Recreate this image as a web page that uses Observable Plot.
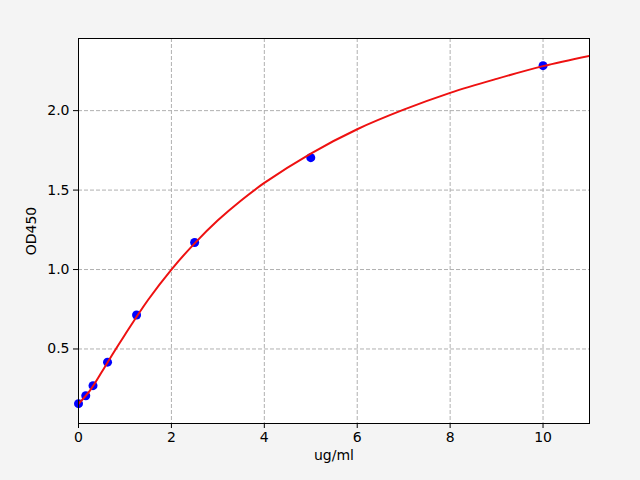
<!DOCTYPE html>
<html>
<head>
<meta charset="utf-8">
<script src="https://cdn.jsdelivr.net/npm/d3@7"></script>
<script src="https://cdn.jsdelivr.net/npm/@observablehq/plot@0.6"></script>
<style>
  html, body { margin: 0; padding: 0; background: #f4f4f4; }
  #chart svg { display: block; }
</style>
</head>
<body>
<div id="chart"></div>
<script>
// Standard points (concentration ug/ml, OD450)
const conc = [0, 0.156, 0.3125, 0.625, 1.25, 2.5, 5, 10];
const od   = [0.156, 0.206, 0.269, 0.417, 0.714, 1.170, 1.704, 2.283];

// Fitted curve
const curveX = [0, 0.25, 0.5, 0.75, 1, 1.5, 2, 2.5, 3, 3.5, 4, 5, 6, 7, 8, 9, 10, 11];
const curveY = [0.155, 0.24, 0.355, 0.475, 0.59, 0.81, 1.0, 1.165, 1.31, 1.435, 1.545, 1.73, 1.883, 2.006, 2.112, 2.2, 2.28, 2.345];

const xTicks = [0, 2, 4, 6, 8, 10];
const yTicks = [0.5, 1.0, 1.5, 2.0];

const points = conc.map((c, i) => ({x: c, y: od[i]}));
const curve = curveX.map((c, i) => ({x: c, y: curveY[i]}));

const chart = Plot.plot({
  width: 640,
  height: 480,
  marginLeft: 78,
  marginRight: 51,
  marginTop: 38,
  marginBottom: 57,
  style: {fontFamily: "DejaVu Sans", fontSize: "14px", background: "#f4f4f4", color: "black"},
  x: {domain: [0, 11], ticks: xTicks, tickSize: 5, tickPadding: 4, label: "ug/ml", labelAnchor: "center", labelArrow: "none", labelOffset: 36, tickFormat: d3.format("d")},
  y: {domain: [0.031, 2.454], ticks: yTicks, tickSize: 5, tickPadding: 4, label: "OD450", labelAnchor: "center", labelArrow: "none", labelOffset: 52, tickFormat: d3.format(".1f")},
  marks: [
    Plot.frame({fill: "white", stroke: null}),
    Plot.gridX(xTicks, {stroke: "#b0b0b0", strokeOpacity: 1, strokeWidth: 1, strokeDasharray: "4,2"}),
    Plot.gridY(yTicks, {stroke: "#b0b0b0", strokeOpacity: 1, strokeWidth: 1, strokeDasharray: "4,2"}),
    Plot.dot(points, {x: "x", y: "y", r: 4.5, fill: "#0000ff", stroke: null}),
    Plot.line(curve, {x: "x", y: "y", stroke: "#ee1111", strokeWidth: 2, curve: "catmull-rom", clip: true}),
    Plot.frame({stroke: "black", strokeWidth: 1})
  ]
});
document.getElementById("chart").appendChild(chart);
</script>
</body>
</html>
